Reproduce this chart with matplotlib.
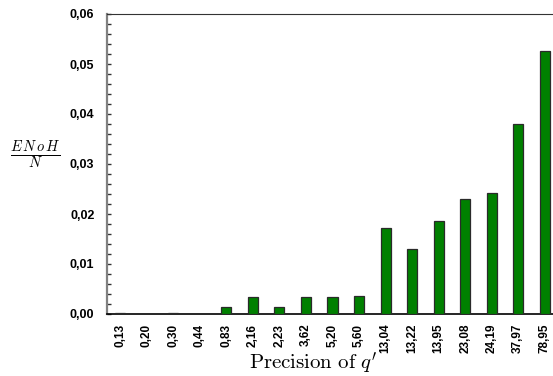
import numpy as np
from matplotlib import pyplot as plt
from matplotlib.ticker import MultipleLocator, FuncFormatter

plt.rcParams['mathtext.fontset'] = 'cm'

precision = ['0,13', '0,20', '0,30', '0,44', '0,83', '2,16', '2,23', '3,62', '5,20',
             '5,60', '13,04', '13,22', '13,95', '23,08', '24,19', '37,97', '78,95']
enoh = [0.0002, 0.0001, 0.0003, 0.0001, 0.0014, 0.0035, 0.0015, 0.0035, 0.0035,
        0.0037, 0.0173, 0.0131, 0.0186, 0.0231, 0.0243, 0.0379, 0.0527]

fig = plt.figure(figsize=(5.53, 3.76), dpi=100)
ax = fig.add_axes([107 / 553, 62 / 376, 451 / 553, 300 / 376])

x = np.arange(len(precision))
ax.bar(x, enoh, width=0.38, color='#008000', edgecolor='#2a2a2a', linewidth=0.9, zorder=3)

ax.set_xlim(-0.5, len(precision) - 0.5)
ax.set_ylim(0, 0.06)
ax.yaxis.set_major_locator(MultipleLocator(0.01))
ax.yaxis.set_minor_locator(MultipleLocator(0.002))
ax.yaxis.set_major_formatter(FuncFormatter(lambda v, p: ('%.2f' % v).replace('.', ',')))
ax.tick_params(axis='y', which='both', direction='in', length=3, width=1, color='#333333', pad=9)
ax.set_xticks(x)
ax.set_xticklabels(precision, rotation=90)
ax.tick_params(axis='x', length=0, pad=7)
for lab in ax.get_yticklabels():
    lab.set_fontfamily(['Liberation Sans', 'DejaVu Sans'])
    lab.set_fontweight('bold')
    lab.set_fontsize(9)
for lab in ax.get_xticklabels():
    lab.set_fontfamily(['Liberation Sans', 'DejaVu Sans'])
    lab.set_fontweight('bold')
    lab.set_fontsize(8.5)

ax.spines['left'].set_color('#808080')
ax.spines['left'].set_linewidth(1.6)
ax.spines['top'].set_color('#333333')
ax.spines['bottom'].set_color('black')
ax.spines['bottom'].set_linewidth(1.2)
ax.spines['right'].set_visible(False)

fig.text(35 / 553, 1 - 155 / 376, r'$\frac{E\,N\,o\,H}{N}$', fontsize=15, ha='center', va='center')
fig.text(313 / 553, 1 - 369 / 376, r"$\mathrm{Precision\ of}\ q'$", fontsize=15,
         ha='center', va='baseline')

plt.savefig('out.png')
